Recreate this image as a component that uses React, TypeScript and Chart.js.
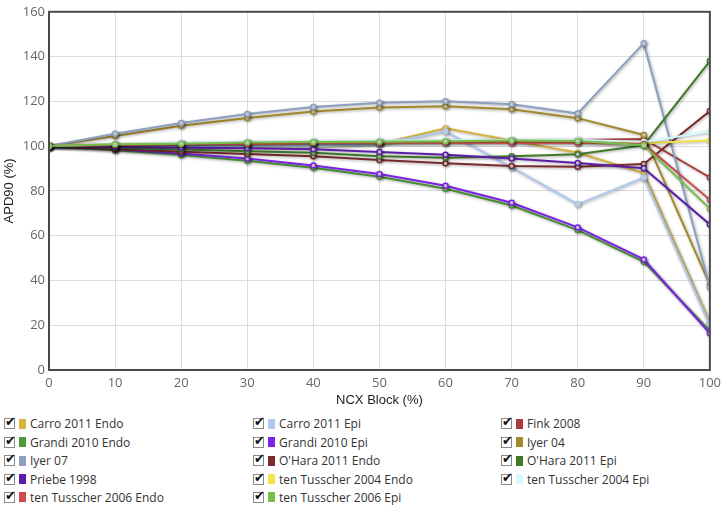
import React, { useEffect, useRef } from "react";
import { Chart, registerables } from "chart.js";

Chart.register(...registerables);

const xValues = [0, 10, 20, 30, 40, 50, 60, 70, 80, 90, 100];

const seriesNames = [
  "Carro 2011 Endo",
  "Carro 2011 Epi",
  "Fink 2008",
  "Grandi 2010 Endo",
  "Grandi 2010 Epi",
  "Iyer 04",
  "Iyer 07",
  "O'Hara 2011 Endo",
  "O'Hara 2011 Epi",
  "Priebe 1998",
  "ten Tusscher 2004 Endo",
  "ten Tusscher 2004 Epi",
  "ten Tusscher 2006 Endo",
  "ten Tusscher 2006 Epi",
];

const seriesColors = [
  "#d6b33d",
  "#aec9ee",
  "#a83d3d",
  "#4e9a3a",
  "#7a22e6",
  "#a38a2c",
  "#8c9fbe",
  "#7a2b2b",
  "#3f7a2a",
  "#5a1fa6",
  "#f2e44a",
  "#d6fafc",
  "#cc4c4c",
  "#76c04a",
];

const carroEndo = [100, 100, 99.8, 99.8, 99.8, 101, 108, 102.5, 97, 88, 21];
const carroEpi = [100, 100, 100, 100, 100, 101, 106.5, 90.5, 74, 86, 20];
const fink2008 = [100, 100.4, 100.8, 101.1, 101.3, 101.6, 102, 102.4, 102.7, 103.2, 86];
const grandiEndo = [100, 98.2, 96, 93.5, 90.3, 86.3, 81, 73.5, 62.5, 48.3, 17.5];
const grandiEpi = [100, 98.6, 96.7, 94.5, 91.3, 87.5, 82.3, 74.7, 63.7, 49.4, 16.4];
const iyer04 = [100, 104.5, 109.1, 112.6, 115.5, 117.2, 117.8, 116.5, 112.5, 105, 38];
const iyer07 = [100, 105.5, 110.3, 114.3, 117.5, 119.4, 120.1, 118.7, 114.6, 146, 37];
const oharaEndo = [100, 98.7, 97.5, 96.5, 95.5, 93.8, 92.3, 91.1, 90.8, 92, 115.7];
const oharaEpi = [100, 99.3, 98.5, 97.7, 97, 95.5, 94.8, 95.5, 96.4, 100.4, 138];
const priebe1998 = [100, 99.6, 99.3, 99, 98.6, 97.4, 96.2, 94.5, 92.5, 90.1, 65];
const tt04Endo = [100, 100.5, 101, 101.2, 101.4, 101.5, 101.6, 101.6, 101.6, 101.3, 102.5];
const tt04Epi = [100, 100.8, 101.5, 102, 102.3, 102.5, 102.7, 102.8, 102.8, 101.8, 106.5];
const tt06Endo = [100, 100.5, 101, 101, 101.5, 101.5, 101.5, 101.5, 101.5, 101, 76];
const tt06Epi = [100, 100.8, 101.1, 101.6, 101.8, 102, 102.2, 102.5, 102.3, 100.4, 72];

const seriesValues = [
  carroEndo,
  carroEpi,
  fink2008,
  grandiEndo,
  grandiEpi,
  iyer04,
  iyer07,
  oharaEndo,
  oharaEpi,
  priebe1998,
  tt04Endo,
  tt04Epi,
  tt06Endo,
  tt06Epi,
];

const xTitle = "NCX Block (%)";
const yTitle = "APD90 (%)";

const shadowPlugin = {
  id: "lineShadow",
  beforeDatasetsDraw(chart: any) {
    const ctx = chart.ctx;
    ctx.save();
    ctx.shadowColor = "rgba(0,0,0,0.35)";
    ctx.shadowBlur = 3;
    ctx.shadowOffsetX = 1;
    ctx.shadowOffsetY = 1;
  },
  afterDatasetsDraw(chart: any) {
    chart.ctx.restore();
  },
};

const framePlugin = {
  id: "frame",
  afterDraw(chart: any) {
    const { ctx, chartArea } = chart;
    ctx.save();
    ctx.strokeStyle = "#4a4a4a";
    ctx.lineWidth = 2;
    ctx.strokeRect(chartArea.left, chartArea.top, chartArea.right - chartArea.left, chartArea.bottom - chartArea.top);
    ctx.restore();
  },
};

function CheckBox() {
  return (
    <span
      style={{
        display: "inline-block",
        position: "relative",
        width: 11,
        height: 11,
        border: "1px solid #8a8a8a",
        background: "#fff",
        boxSizing: "border-box",
        marginRight: 4,
      }}
    >
      <span
        style={{
          position: "absolute",
          left: 0,
          top: -4,
          fontSize: 13,
          lineHeight: "13px",
          color: "#111",
          fontFamily: "DejaVu Sans",
          fontWeight: "bold",
        }}
      >
        ✔
      </span>
    </span>
  );
}

export default function App() {
  const canvasRef = useRef<HTMLCanvasElement | null>(null);

  useEffect(() => {
    document.body.style.margin = "0";
    const canvas = canvasRef.current;
    if (!canvas) return;
    const n = seriesNames.length;
    const datasets = seriesNames.map((name, i) => ({
      label: name,
      data: xValues.map((x, j) => ({ x, y: seriesValues[i][j] })),
      borderColor: seriesColors[i],
      backgroundColor: seriesColors[i],
      borderWidth: 2,
      pointRadius: 2.5,
      pointBorderWidth: 1.5,
      pointBackgroundColor: "rgba(255,255,255,0.85)",
      pointBorderColor: seriesColors[i],
      tension: 0,
      fill: false,
      order: n - i,
    }));
    const chart = new Chart(canvas, {
      type: "line",
      data: { datasets },
      options: {
        animation: false,
        responsive: false,
        maintainAspectRatio: false,
        layout: { padding: { left: 0, right: 12, top: 5, bottom: 0 } },
        plugins: { legend: { display: false }, tooltip: { enabled: false } },
        scales: {
          x: {
            type: "linear",
            min: 0,
            max: 100,
            ticks: {
              stepSize: 10,
              color: "#666",
              font: { family: "Open Sans", size: 13 },
              padding: 5,
            },
            grid: { color: "#dcdcdc", drawTicks: false },
            border: { color: "#4a4a4a", width: 2 },
            title: {
              display: true,
              text: xTitle,
              color: "#222",
              font: { family: "Liberation Sans", size: 13 },
              padding: { top: 0, bottom: 2 },
            },
            afterFit(scale: any) {
              scale.height = 40;
            },
          },
          y: {
            type: "linear",
            min: 0,
            max: 160,
            ticks: {
              stepSize: 20,
              color: "#666",
              font: { family: "Open Sans", size: 13 },
              padding: 4,
            },
            grid: { color: "#dcdcdc", drawTicks: false },
            border: { color: "#4a4a4a", width: 2 },
            title: {
              display: true,
              text: yTitle,
              color: "#222",
              font: { family: "Liberation Sans", size: 13 },
              padding: { top: 2, bottom: 0 },
            },
            afterFit(scale: any) {
              scale.width = 49;
            },
          },
        },
      },
      plugins: [shadowPlugin, framePlugin],
    });
    return () => chart.destroy();
  }, []);

  const colX = [4, 253, 501];
  const rowY = [423.5, 442, 460.5, 479, 497];

  return (
    <div style={{ position: "relative", width: 726, height: 506, background: "#fff", overflow: "hidden" }}>
      <canvas ref={canvasRef} width={726} height={410} style={{ position: "absolute", left: 0, top: 0 }} />
      {seriesNames.map((name, i) => {
        const col = i % 3;
        const row = Math.floor(i / 3);
        return (
          <div
            key={name}
            style={{
              position: "absolute",
              left: colX[col],
              top: rowY[row] - 9,
              height: 18,
              display: "flex",
              alignItems: "center",
              fontFamily: "Open Sans",
              fontSize: 12,
              color: "#333",
              whiteSpace: "nowrap",
            }}
          >
            <CheckBox />
            <span
              style={{
                display: "inline-block",
                width: 7,
                height: 10,
                background: seriesColors[i],
                marginRight: 4,
              }}
            />
            <span>{name}</span>
          </div>
        );
      })}
    </div>
  );
}
